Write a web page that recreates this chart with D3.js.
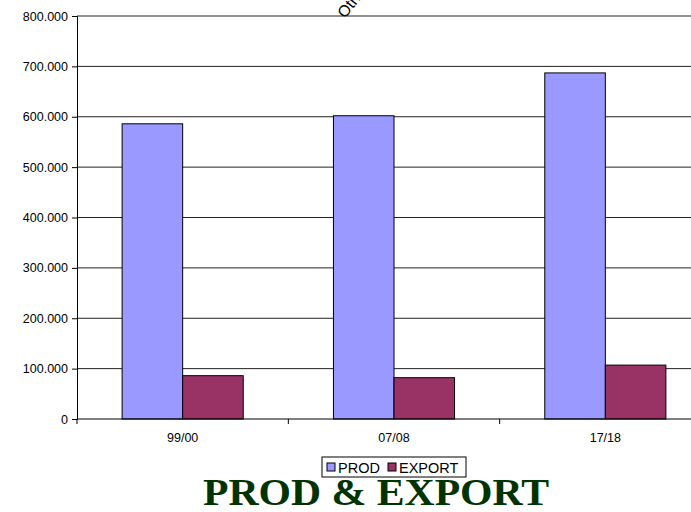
<!DOCTYPE html>
<html>
<head>
<meta charset="utf-8">
<script src="https://cdn.jsdelivr.net/npm/d3@7"></script>
<style>
  html, body { margin: 0; padding: 0; background: #fff; overflow: hidden; }
  svg { display: block; font-family: Arial, "Liberation Sans", sans-serif; }
</style>
</head>
<body>
<svg id="chart"></svg>
<script>
// chart data
const categories = ["99/00", "07/08", "17/18"];
const series = ["PROD", "EXPORT"];
const prod = [586000, 602000, 687000];
const exportVals = [86000, 82000, 107000];
const yTicks = [0, 100000, 200000, 300000, 400000, 500000, 600000, 700000, 800000];
const colors = ["#9999ff", "#993366"];

const width = 691, height = 512;
const margin = {top: 16, left: 77, bottom: 93, right: -20};

const svg = d3.select("#chart")
  .attr("width", width)
  .attr("height", height);

const rows = categories.map((c, i) => ({cat: c, values: [prod[i], exportVals[i]]}));

const x0 = d3.scaleBand()
  .domain(categories)
  .range([margin.left, width - margin.right]);

const x1 = d3.scaleBand()
  .domain(series)
  .range([0, x0.bandwidth()])
  .paddingOuter(0.745);

const y = d3.scaleLinear()
  .domain([0, 800000])
  .range([height - margin.bottom, margin.top]);

const fmt = d3.formatLocale({decimal: ",", thousands: ".", grouping: [3], currency: ["", ""]}).format(",d");

// cut-off rotated text at the top (mostly outside the picture)
svg.append("text")
  .attr("transform", "translate(345,19) rotate(-52)")
  .attr("font-size", 16)
  .text("Other");

// gridlines
svg.append("g")
  .selectAll("line")
  .data(yTicks.slice(1))
  .join("line")
  .attr("x1", margin.left)
  .attr("x2", width - margin.right)
  .attr("y1", d => y(d))
  .attr("y2", d => y(d))
  .attr("stroke", "#222")
  .attr("stroke-width", 1);

// bars
const groups = svg.append("g")
  .selectAll("g")
  .data(rows)
  .join("g")
  .attr("transform", d => `translate(${x0(d.cat)},0)`);

groups.selectAll("rect")
  .data(d => d.values.map((v, i) => ({key: series[i], v, i})))
  .join("rect")
  .attr("x", d => x1(d.key))
  .attr("width", x1.bandwidth())
  .attr("y", d => y(d.v))
  .attr("height", d => y(0) - y(d.v))
  .attr("fill", d => colors[d.i])
  .attr("stroke", "#000")
  .attr("stroke-width", 1);

// y axis
const yAxis = svg.append("g")
  .attr("transform", `translate(${margin.left},0)`)
  .call(d3.axisLeft(y).tickValues(yTicks).tickFormat(fmt).tickSize(5).tickPadding(4));
yAxis.select(".domain").attr("stroke", "#000");
yAxis.selectAll("text")
  .attr("font-size", 12.5)
  .attr("font-family", "Arial, 'Liberation Sans', sans-serif")
  .attr("fill", "#000");

// x axis
const xAxis = svg.append("g")
  .attr("transform", `translate(0,${y(0)})`);
xAxis.append("line")
  .attr("x1", margin.left).attr("x2", width - margin.right)
  .attr("stroke", "#000");
xAxis.selectAll("line.tick")
  .data(categories)
  .join("line")
  .attr("class", "tick")
  .attr("x1", d => x0(d)).attr("x2", d => x0(d))
  .attr("y1", 0).attr("y2", 5)
  .attr("stroke", "#000");
xAxis.selectAll("text")
  .data(categories)
  .join("text")
  .attr("x", d => x0(d) + x0.bandwidth() / 2)
  .attr("y", 23)
  .attr("text-anchor", "middle")
  .attr("font-size", 12.5)
  .text(d => d);

// legend
const legend = svg.append("g").attr("transform", "translate(322,457)");
legend.append("rect")
  .attr("width", 144).attr("height", 20)
  .attr("fill", "#fff").attr("stroke", "#000");
const legendX = [5, 66];
const item = legend.selectAll("g")
  .data(series)
  .join("g")
  .attr("transform", (d, i) => `translate(${legendX[i]},0)`);
item.append("rect")
  .attr("y", 6).attr("width", 8).attr("height", 8)
  .attr("fill", (d, i) => colors[i]).attr("stroke", "#000");
item.append("text")
  .attr("x", 11).attr("y", 15.5)
  .attr("font-size", 14.5)
  .text(d => d);

// title
svg.append("text")
  .attr("x", 376)
  .attr("y", 505)
  .attr("text-anchor", "middle")
  .attr("font-family", "'Times New Roman', 'Liberation Serif', serif")
  .attr("font-weight", "bold")
  .attr("font-size", 38)
  .attr("textLength", 346)
  .attr("lengthAdjust", "spacingAndGlyphs")
  .attr("fill", "#003300")
  .text("PROD & EXPORT");
</script>
</body>
</html>
